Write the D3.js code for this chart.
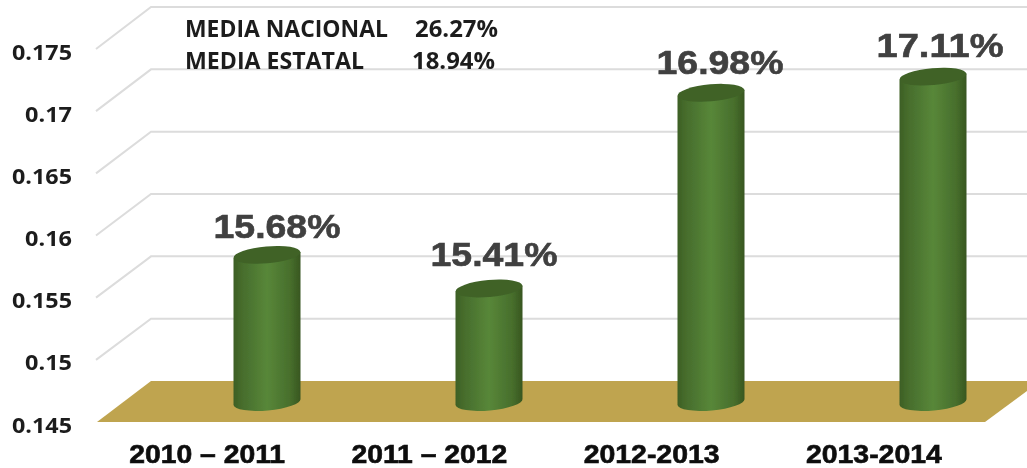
<!DOCTYPE html>
<html>
<head>
<meta charset="utf-8">
<script src="https://d3js.org/d3.v7.min.js"></script>
<style>
body { margin: 0; background: #fff; }
svg { display: block; }
.tick text { font-family: "Open Sans", sans-serif; font-weight: 700; font-size: 22px; fill: #1f1f1f; }
.label { font-family: "Liberation Sans", Arial, sans-serif; font-weight: 700; font-size: 33px; fill: #404040; stroke: #404040; stroke-width: .6px; }
.cat { font-family: "Liberation Sans", Arial, sans-serif; font-weight: 700; font-size: 25px; fill: #0d0d0d; stroke: #0d0d0d; stroke-width: .6px; text-anchor: middle; }
.note { font-family: "Open Sans", sans-serif; font-weight: 700; font-size: 23px; fill: #1f1f1f; }
</style>
</head>
<body>
<div id="chart"></div>
<script>
var width = 1027;
var height = 468;

var categories = ["2010 – 2011", "2011 – 2012", "2012-2013", "2013-2014"];
var values = [0.1568, 0.1541, 0.1698, 0.1711];
var valueLabels = ["15.68%", "15.41%", "16.98%", "17.11%"];
var yTicks = [0.145, 0.15, 0.155, 0.16, 0.165, 0.17, 0.175];
var noteNames = ["MEDIA NACIONAL", "MEDIA ESTATAL"];
var noteValues = ["26.27%", "18.94%"];

// label nudges from the bar top, the original labels were placed by hand
var labelDx = [10, 5, 9, 7];
var labelDy = [-17, -23, -19, -20];

var svg = d3.select("#chart").append("svg")
	.attr("width", width)
	.attr("height", height);

var defs = svg.append("defs");
var grad = defs.append("linearGradient").attr("id", "cyl");
grad.append("stop").attr("offset", "0%").attr("stop-color", "#3d5f24");
grad.append("stop").attr("offset", "12%").attr("stop-color", "#466c2c");
grad.append("stop").attr("offset", "50%").attr("stop-color", "#588739");
grad.append("stop").attr("offset", "85%").attr("stop-color", "#476e2c");
grad.append("stop").attr("offset", "100%").attr("stop-color", "#385620");
defs.append("filter").attr("id", "soft")
	.append("feGaussianBlur").attr("stdDeviation", 0.6);

var root = svg.append("g").attr("filter", "url(#soft)");

// scales: front edge of floor, back wall, and the plane the bars stand in
var yDomain = [0.145, 0.175];
var yFront = d3.scaleLinear().domain(yDomain).range([422, 49]);
var yBack = d3.scaleLinear().domain(yDomain).range([381, 7]);
var yBar = d3.scaleLinear().domain(yDomain).range([402, 28]);
var xFront = d3.scaleBand().domain(categories).range([96, 985]);
var xBar = d3.scaleBand().domain(categories).range([156, 1044]);

// floor
root.append("polygon")
	.attr("points", [[97, yFront(0.145)], [151, yBack(0.145)], [1027, yBack(0.145)], [1027, 391], [985, yFront(0.145)]].join(" "))
	.attr("fill", "#bfa44f");

// grid lines
root.selectAll(".grid")
	.data(yTicks.slice(1))
	.enter()
	.append("path")
	.attr("class", "grid")
	.attr("fill", "none")
	.attr("stroke", "#dcdcdc")
	.attr("stroke-width", 2)
	.attr("d", function(d) {
		return "M96," + yFront(d) + "L151," + yBack(d) + "L1027," + yBack(d);
	});

// y axis
var yAxis = d3.axisLeft(yFront)
	.tickValues(yTicks)
	.tickSize(0)
	.tickPadding(0)
	.tickFormat(function(d) { return String(d); });
var yG = root.append("g")
	.attr("transform", "translate(72,3)")
	.call(yAxis);
yG.select(".domain").remove();
yG.selectAll(".tick text").attr("textLength", function(d) {
	return String(d).length == 5 ? 60 : 47;
}).attr("lengthAdjust", "spacingAndGlyphs");

// cylinders
var rx = 33.5, ry = 8.5, tilt = -5, dy = 3;

var bars = root.selectAll(".bar")
	.data(values)
	.enter()
	.append("g")
	.attr("class", "bar");

function centerX(i) {
	return xBar(categories[i]) + xBar.bandwidth() / 2;
}

bars.append("path")
	.attr("fill", "url(#cyl)")
	.attr("d", function(d, i) {
		var l = centerX(i) - rx, r = centerX(i) + rx;
		var top = yBar(d), base = yBar(0.145);
		return "M" + l + "," + (top + dy) +
			"L" + l + "," + (base + dy) +
			"A" + rx + "," + ry + " " + tilt + " 0 0 " + r + "," + (base - dy) +
			"L" + r + "," + (top - dy) + "Z";
	});

bars.append("ellipse")
	.attr("rx", rx)
	.attr("ry", ry)
	.attr("fill", "#3f6228")
	.attr("transform", function(d, i) {
		return "translate(" + centerX(i) + "," + yBar(d) + ") rotate(" + tilt + ")";
	});

// value labels
root.selectAll(".label")
	.data(values)
	.enter()
	.append("text")
	.attr("class", "label")
	.attr("text-anchor", "middle")
	.attr("x", function(d, i) { return centerX(i) + labelDx[i]; })
	.attr("y", function(d, i) { return yBar(d) + labelDy[i]; })
	.attr("textLength", 127)
	.attr("lengthAdjust", "spacingAndGlyphs")
	.text(function(d, i) { return valueLabels[i]; });

// category labels
root.selectAll(".cat")
	.data(categories)
	.enter()
	.append("text")
	.attr("class", "cat")
	.attr("x", function(d) { return xFront(d) + xFront.bandwidth() / 2; })
	.attr("y", 463)
	.attr("textLength", function(d, i) { return i < 2 ? 156 : 136; })
	.attr("lengthAdjust", "spacingAndGlyphs")
	.text(function(d) { return d; });

// note top left
var noteY = [37, 69];
var nameW = [203, 179];
var valX = [415, 412];
noteNames.forEach(function(n, i) {
	root.append("text").attr("class", "note")
		.attr("x", 185).attr("y", noteY[i])
		.attr("textLength", nameW[i])
		.attr("lengthAdjust", "spacingAndGlyphs")
		.text(n);
	root.append("text").attr("class", "note")
		.attr("x", valX[i]).attr("y", noteY[i])
		.attr("textLength", 83)
		.attr("lengthAdjust", "spacingAndGlyphs")
		.text(noteValues[i]);
});
</script>
</body>
</html>
